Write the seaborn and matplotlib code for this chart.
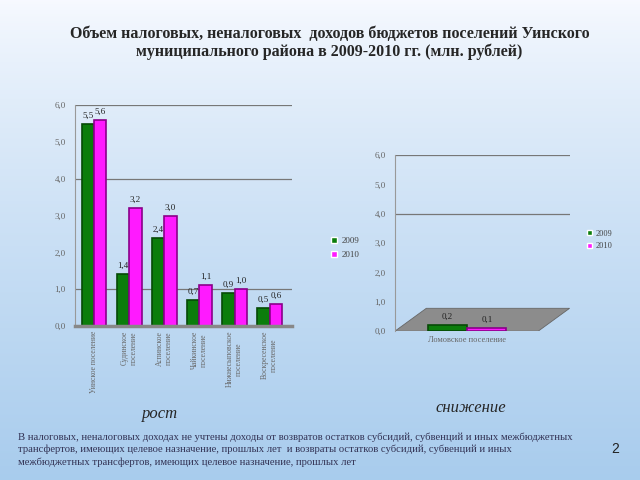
import numpy as np
import pandas as pd
import seaborn as sns
import matplotlib.pyplot as plt
from matplotlib.patches import Polygon
from matplotlib.ticker import FuncFormatter

# data (млн. рублей)
settlements = ["Уинское поселение", "Судинское\nпоселение", "Аспинское\nпоселение",
               "Чайкинское\nпоселение", "Нижнесыповское\nпоселение", "Воскресенское\nпоселение"]
vals_2009 = [5.5, 1.4, 2.4, 0.7, 0.9, 0.5]
vals_2010 = [5.6, 3.2, 3.0, 1.1, 1.0, 0.6]

down_settlements = ["Ломовское поселение"]
down_2009 = [0.2]
down_2010 = [0.1]

years = ["2009", "2010"]
GREEN = "#0b7d0b"
MAGENTA = "#ff1aff"
EDGES = ["#064a06", "#8a008a"]

title = ("Объем налоговых, неналоговых  доходов бюджетов поселений Уинского\n"
         "муниципального района в 2009-2010 гг. (млн. рублей)")
note = ("В налоговых, неналоговых доходах не учтены доходы от возвратов остатков субсидий, субвенций и иных межбюджетных\n"
        "трансфертов, имеющих целевое назначение, прошлых лет  и возвраты остатков субсидий, субвенций и иных\n"
        "межбюджетных трансфертов, имеющих целевое назначение, прошлых лет")

sns.set_style("white")
plt.rcParams['font.family'] = ['Liberation Serif', 'DejaVu Serif']

fig = plt.figure(figsize=(6.4, 4.8), dpi=100)

# slide background gradient
bg = fig.add_axes([0, 0, 1, 1], zorder=-10)
grad = np.linspace(0, 1, 256).reshape(-1, 1)
top_c = np.array([0.97, 0.98, 1.0])
bot_c = np.array([0.66, 0.80, 0.93])
img = top_c + (bot_c - top_c) * grad[:, :, None] ** 0.8
bg.imshow(img, aspect="auto", extent=[0, 1, 0, 1])
bg.axis("off")


def comma(v, pos=None):
    return f"{v:.1f}".replace(".", ",")


def make_df(cats, a, b):
    return pd.DataFrame({
        "cat": cats * 2,
        "year": [years[0]] * len(cats) + [years[1]] * len(cats),
        "value": list(a) + list(b),
    })


def style_axis(ax, grid_vals):
    ax.set_facecolor("none")
    ax.set_ylim(0, 6)
    ax.set_yticks(np.arange(0, 7, 1.0))
    ax.yaxis.set_major_formatter(FuncFormatter(comma))
    ax.tick_params(axis="y", labelsize=6.5, colors="#666666", length=3, width=0.6)
    for g in grid_vals:
        ax.axhline(g, color="#777777", lw=0.9, zorder=0)
    for s in ["top", "right"]:
        ax.spines[s].set_visible(False)
    ax.spines["left"].set_color("#999999")
    ax.spines["bottom"].set_color("#888888")
    ax.spines["bottom"].set_linewidth(2.5)
    ax.set_xlabel("")
    ax.set_ylabel("")


def add_labels(ax):
    for cont in ax.containers:
        ax.bar_label(cont, labels=[comma(b.get_height()) for b in cont],
                     fontsize=6.5, padding=3, color="#222222")
    for cont, ec in zip(ax.containers, EDGES):
        for b in cont:
            b.set_edgecolor(ec)
            b.set_linewidth(1.2)


# left chart: growth
ax1 = fig.add_axes([0.117, 0.321, 0.340, 0.46])
sns.barplot(data=make_df(settlements, vals_2009, vals_2010), x="cat", y="value",
            hue="year", palette=[GREEN, MAGENTA], width=0.7, ax=ax1, saturation=1)
style_axis(ax1, [1, 4, 6])
add_labels(ax1)
ax1.set_xlim(-0.55, len(settlements) - 0.35)
ax1.set_xticks(range(len(settlements)))
ax1.set_xticklabels(settlements, rotation=90, fontsize=5.5, color="#666666",
                    va="top", ha="center")
ax1.tick_params(axis="x", length=0)
ax1.legend(loc="center left", bbox_to_anchor=(0.505, 0.483), bbox_transform=fig.transFigure,
           frameon=False, fontsize=6.5, handlelength=0.6, handleheight=0.6,
           handletextpad=0.5, labelspacing=0.7, labelcolor="#444444")

# right chart: decline
ax2 = fig.add_axes([0.617, 0.31, 0.273, 0.367])
sns.barplot(data=make_df(down_settlements, down_2009, down_2010), x="cat", y="value",
            hue="year", palette=[GREEN, MAGENTA], width=0.65, ax=ax2, saturation=1)
style_axis(ax2, [4, 6])
add_labels(ax2)
ax2.spines["bottom"].set_visible(False)
ax2.add_patch(Polygon([[0.0, 0.0], [0.82, 0.0], [1.0, 0.13], [0.18, 0.13]],
                      closed=True, transform=ax2.transAxes, facecolor="#8c8c8c",
                      edgecolor="#666666", lw=0.6, zorder=0.5))
ax2.set_xlim(-0.6, 0.85)
ax2.tick_params(axis="x", labelsize=6, colors="#666666", length=0)
ax2.legend(loc="center left", bbox_to_anchor=(0.905, 0.50), bbox_transform=fig.transFigure,
           frameon=False, fontsize=6, handlelength=0.6, handleheight=0.6,
           handletextpad=0.5, labelspacing=0.6, labelcolor="#444444")

# texts
fig.text(0.515, 0.911, title, ha="center", va="center", fontsize=11.5,
         fontweight="bold", linespacing=1.15)
fig.text(0.25, 0.138, "рост", ha="center", va="center", fontsize=12, style="italic")
fig.text(0.735, 0.150, "снижение", ha="center", va="center", fontsize=12, style="italic")
fig.text(0.028, 0.064, note, ha="left", va="center", fontsize=7.7, color="#333355",
         linespacing=1.4)
fig.text(0.962, 0.065, "2", ha="center", va="center", fontsize=10, color="#222222",
         family="Liberation Sans")

fig.savefig("out.png", dpi=100)
